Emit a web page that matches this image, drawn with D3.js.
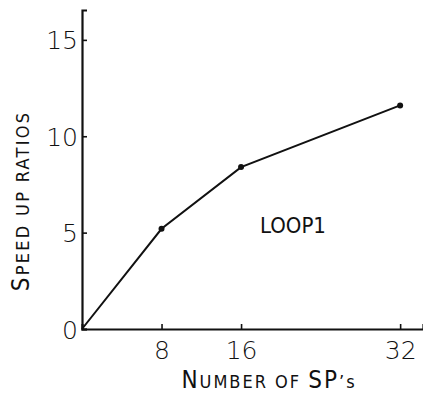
<!DOCTYPE html>
<html>
<head>
<meta charset="utf-8">
<script src="https://cdn.jsdelivr.net/npm/d3@7"></script>
<style>
  body { margin: 0; background: #fff; }
  text { font-family: "DejaVu Sans", sans-serif; font-stretch: condensed; fill: #111; }
</style>
</head>
<body>
<svg id="chart" width="423" height="394"></svg>
<script>
// number of SPs and measured speed-up ratios
const sps = [0, 8, 16, 32];
const speedup = [0, 5.2, 8.4, 11.6];
const xTicks = [8, 16, 32];
const yTicks = [0, 5, 10, 15];
const curveLabel = "LOOP1";

const svg = d3.select('#chart');
const margin = { top: 10, right: 0, bottom: 65, left: 82 };
const width = 423 - margin.left - margin.right;
const height = 394 - margin.top - margin.bottom;

const g = svg.append('g')
  .attr('transform', `translate(${margin.left},${margin.top})`);

const x = d3.scaleLinear().domain([0, 34.3]).range([0, width]);
const y = d3.scaleLinear().domain([0, 16.55]).range([height, 0]);

// axes: ticks point inward
const xAxis = g.append('g')
  .attr('transform', `translate(0,${height})`)
  .call(d3.axisBottom(x).tickValues(xTicks).tickSize(-5).tickPadding(12));
const yAxis = g.append('g')
  .call(d3.axisLeft(y).tickValues(yTicks).tickSize(-5).tickPadding(4));

[xAxis, yAxis].forEach(a => {
  a.select('.domain').attr('stroke', '#111').attr('stroke-width', 2.2);
  a.selectAll('.tick line').attr('stroke', '#111').attr('stroke-width', 1.6);
  a.selectAll('.tick text')
    .style('font-size', '25px')
    .style('font-family', '"DejaVu Sans", sans-serif')
    .style('font-stretch', 'condensed')
    .style('font-weight', 300)
    .attr('fill', '#111');
});
xAxis.selectAll('.tick text').attr('dy', '0.71em');
yAxis.selectAll('.tick text').attr('dy', '0.36em');

const pts = sps.map((d, i) => [d, speedup[i]]);

g.append('path')
  .datum(pts)
  .attr('fill', 'none')
  .attr('stroke', '#111')
  .attr('stroke-width', 2)
  .attr('d', d3.line().x(d => x(d[0])).y(d => y(d[1])));

g.selectAll('.pt')
  .data(pts.slice(1))
  .enter()
  .append('circle')
  .attr('class', 'pt')
  .attr('cx', d => x(d[0]))
  .attr('cy', d => y(d[1]))
  .attr('r', 3)
  .attr('fill', '#111');

// curve label
g.append('text')
  .attr('x', 178)
  .attr('y', 223)
  .style('font-size', '22px')
  .text(curveLabel);

// axis titles in small caps style
const xTitle = svg.append('text')
  .attr('x', 269)
  .attr('y', 388)
  .attr('text-anchor', 'middle')
  .style('letter-spacing', '2px')
  .style('font-size', '24px');
xTitle.append('tspan').text('N');
xTitle.append('tspan').style('font-size', '18px').text('UMBER OF ');
xTitle.append('tspan').text('SP');
xTitle.append('tspan').style('font-size', '18px').text('\u2019s');

const yTitle = svg.append('text')
  .attr('transform', 'translate(29,201) rotate(-90)')
  .attr('text-anchor', 'middle')
  .style('letter-spacing', '2.3px')
  .style('font-size', '24px');
yTitle.append('tspan').text('S');
yTitle.append('tspan').style('font-size', '18px').text('PEED UP RATIOS');
</script>
</body>
</html>
